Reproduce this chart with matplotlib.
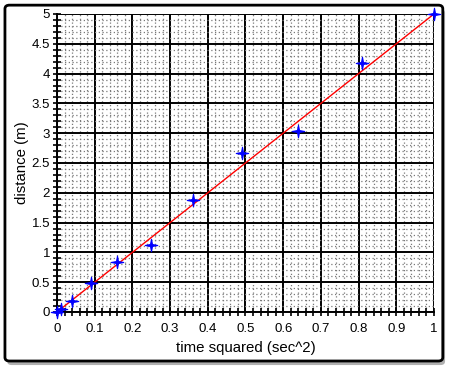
import numpy as np
import matplotlib
matplotlib.use("Agg")
import matplotlib.pyplot as plt
from matplotlib.patches import FancyBboxPatch
from matplotlib.path import Path
from matplotlib.ticker import MultipleLocator

plt.rcParams["font.family"] = ["Liberation Sans", "DejaVu Sans"]

# measured points: time squared vs distance
t_sq = [0.0, 0.01, 0.04, 0.09, 0.16, 0.25, 0.36, 0.49, 0.64, 0.81, 1.0]
dist = [0.0, 0.05, 0.18, 0.49, 0.84, 1.13, 1.88, 2.67, 3.03, 4.17, 5.0]

# fitted line
fit_x = [0.0, 1.0]
fit_y = [0.0, 5.0]

# thin four-pointed star marker
ang = np.arange(8) * np.pi / 4 + np.pi / 2
rad = np.where(np.arange(8) % 2 == 0, 1.0, 0.22)
star = Path(np.column_stack([rad * np.cos(ang), rad * np.sin(ang)]).tolist() + [[0, 1]],
            [Path.MOVETO] + [Path.LINETO] * 7 + [Path.CLOSEPOLY])

fig = plt.figure(figsize=(4.5, 3.68), dpi=100)

# frame with shadow around the whole picture
shadow = FancyBboxPatch((0.016, 0.008), 0.973, 0.967, boxstyle="round,pad=0,rounding_size=0.01",
                        transform=fig.transFigure, facecolor="#b0b0b0", edgecolor="none", zorder=0)
frame = FancyBboxPatch((0.011, 0.019), 0.973, 0.967, boxstyle="round,pad=0,rounding_size=0.01",
                       transform=fig.transFigure, facecolor="white", edgecolor="black", linewidth=2, zorder=1)
fig.patches.extend([shadow, frame])

ax = fig.add_axes([0.1267, 0.1522, 0.8377, 0.8098])
ax.set_zorder(2)
ax.set_facecolor("white")

ax.set_xlim(0, 1)
ax.set_ylim(0, 5)
ax.xaxis.set_major_locator(MultipleLocator(0.1))
ax.xaxis.set_minor_locator(MultipleLocator(0.02))
ax.yaxis.set_major_locator(MultipleLocator(0.5))
ax.yaxis.set_minor_locator(MultipleLocator(0.1))
ax.xaxis.set_major_formatter(lambda v, p: f"{v:g}")
ax.yaxis.set_major_formatter(lambda v, p: f"{v:g}")

ax.grid(True, which="major", color="black", linewidth=1.4)
ax.grid(True, which="minor", color="#7a7a7a", linestyle=(0, (1, 2)), linewidth=0.9)
ax.set_axisbelow(True)

ax.tick_params(which="both", direction="inout", length=6, width=1.2, labelsize=9.5)
ax.tick_params(axis="x", pad=5)
ax.tick_params(axis="y", pad=2)
for s in ax.spines.values():
    s.set_visible(False)
ax.spines["left"].set_visible(True)
ax.spines["bottom"].set_visible(True)
ax.spines["left"].set_linewidth(1.4)
ax.spines["bottom"].set_linewidth(1.4)

ax.plot(fit_x, fit_y, color="red", linewidth=1.0, zorder=3)
ax.plot(t_sq, dist, linestyle="none", marker=star, markersize=9, color="blue",
        markeredgewidth=0.8, zorder=4, clip_on=False)

ax.set_xlabel("time squared (sec^2)", fontsize=10.8, labelpad=4)
ax.set_ylabel("distance (m)", fontsize=10.8, labelpad=2)

fig.savefig("out.png", dpi=100)
